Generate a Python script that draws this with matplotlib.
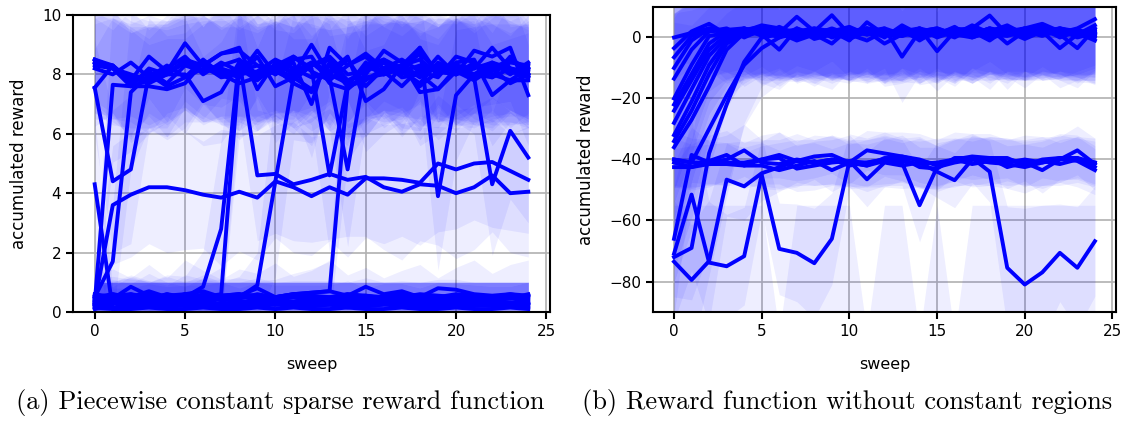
import numpy as np
import matplotlib
matplotlib.use("Agg")
import matplotlib.pyplot as plt

sweeps = np.arange(25)

# ---- (a) piecewise constant sparse reward: mean accumulated reward per run ----
left_high = [
    [8.5, 8.3, 7.7, 8.1, 7.7, 8.3, 8.1, 8.2, 8.0, 8.1, 8.5, 8.2, 7.9, 8.0, 7.7, 8.2, 8.4, 8.1, 8.3, 8.1, 8.0, 8.2, 8.4, 8.0, 8.4],
    [8.4, 8.3, 7.8, 8.6, 8.1, 9.05, 8.3, 8.7, 8.9, 7.5, 8.4, 8.0, 9.0, 8.0, 8.5, 7.6, 8.2, 8.0, 8.9, 8.0, 8.3, 8.2, 8.9, 8.2, 8.1],
    [8.3, 8.2, 7.9, 7.7, 8.0, 8.5, 8.3, 7.9, 8.0, 8.8, 8.0, 8.4, 7.0, 8.9, 8.3, 8.7, 8.2, 8.3, 7.9, 8.6, 8.0, 8.8, 8.6, 8.9, 7.3],
    [7.55, 8.3, 7.6, 7.6, 7.5, 7.7, 8.4, 8.1, 7.9, 8.6, 7.6, 7.9, 8.4, 8.1, 8.6, 7.1, 7.5, 8.3, 8.5, 8.0, 8.4, 8.5, 7.3, 7.8, 7.8],
    [8.5, 8.2, 8.0, 7.8, 8.2, 8.6, 8.0, 8.4, 8.1, 8.3, 8.0, 8.6, 8.2, 4.6, 7.7, 8.3, 8.0, 8.3, 8.9, 3.9, 7.3, 8.0, 8.4, 8.2, 8.0],
    [8.2, 8.0, 8.4, 7.9, 8.3, 7.9, 8.5, 8.0, 8.2, 7.8, 8.3, 8.1, 8.4, 7.9, 4.8, 8.3, 8.5, 8.2, 8.0, 8.3, 8.1, 7.9, 4.3, 6.1, 5.2],
]
left_high_spread = [
    [1.6, 1.9, 1.7, 1.5, 1.8, 1.4, 1.7, 1.6, 1.9, 1.5, 1.7, 1.6, 1.8, 1.5, 1.9, 1.6, 1.7, 1.5, 1.8, 1.6, 1.7, 1.9, 1.6, 1.8, 1.7],
    [1.3, 1.6, 1.9, 1.4, 1.7, 1.5, 1.3, 1.8, 1.6, 1.4, 1.9, 1.5, 1.6, 1.8, 1.4, 1.7, 1.5, 1.9, 1.4, 1.6, 1.8, 1.5, 1.7, 1.4, 1.6],
    [1.6, 1.9, 1.7, 1.5, 1.8, 1.4, 1.7, 1.6, 1.9, 1.5, 1.7, 1.6, 1.8, 1.5, 1.9, 1.6, 1.7, 1.5, 1.8, 1.6, 1.7, 1.9, 1.6, 1.8, 1.7],
    [1.3, 1.6, 1.9, 1.4, 1.7, 1.5, 1.3, 1.8, 1.6, 1.4, 1.9, 1.5, 1.6, 1.8, 1.4, 1.7, 1.5, 1.9, 1.4, 1.6, 1.8, 1.5, 1.7, 1.4, 1.6],
    [1.5, 1.7, 1.6, 1.8, 1.5, 1.7, 1.6, 1.9, 1.5, 1.7, 1.6, 1.8, 1.9, 2.6, 2.0, 1.7, 1.6, 1.8, 1.7, 2.5, 2.2, 1.6, 1.8, 1.5, 1.7],
    [1.7, 1.5, 1.8, 1.6, 1.7, 1.9, 1.5, 1.6, 1.8, 1.7, 1.5, 1.9, 1.6, 1.8, 2.6, 2.0, 1.7, 1.5, 1.8, 1.6, 1.7, 1.9, 2.4, 2.3, 2.2],
]
left_jump = [
    [0.3, 7.65, 7.6, 7.8, 8.0, 8.0, 7.1, 7.4, 8.4, 8.0, 8.2, 8.5, 8.6, 7.7, 7.5, 8.0, 8.8, 8.4, 7.4, 7.5, 8.2, 8.0, 7.9, 8.2, 7.9],
    [0.5, 1.7, 7.4, 8.0, 8.1, 8.4, 8.3, 8.7, 8.8, 8.3, 8.2, 7.7, 7.4, 8.4, 7.6, 8.4, 8.1, 7.6, 8.2, 8.2, 8.3, 8.0, 8.1, 8.4, 8.3],
    [7.55, 4.4, 4.8, 8.0, 7.6, 7.9, 8.2, 8.0, 7.7, 7.9, 8.1, 7.8, 8.3, 8.6, 8.0, 8.1, 8.4, 7.9, 8.0, 7.5, 8.1, 8.3, 8.2, 7.7, 8.0],
    [0.4, 0.3, 0.5, 0.4, 0.6, 0.5, 0.85, 2.8, 8.5, 8.0, 8.3, 8.6, 8.1, 7.8, 8.3, 8.6, 8.0, 8.2, 8.7, 8.1, 8.0, 8.4, 7.9, 8.6, 8.0],
    [0.2, 0.5, 0.3, 0.6, 0.4, 0.3, 0.5, 0.6, 8.3, 7.9, 8.2, 7.9, 8.3, 8.5, 7.8, 8.1, 8.5, 8.1, 7.7, 8.4, 8.1, 7.8, 8.2, 8.5, 8.2],
    [0.3, 0.4, 0.6, 0.4, 0.5, 0.4, 0.6, 0.4, 0.5, 0.9, 4.4, 7.9, 7.5, 8.3, 7.6, 7.8, 8.2, 8.5, 8.1, 7.9, 8.6, 8.4, 8.0, 7.8, 8.2],
    [0.5, 0.6, 0.4, 0.5, 0.3, 0.6, 0.4, 0.5, 0.6, 0.4, 0.5, 0.6, 0.65, 0.7, 7.6, 7.9, 8.0, 8.2, 7.6, 8.1, 8.2, 7.9, 8.3, 8.1, 7.9],
]
left_jump_spread = [
    [0.6, 2.6, 2.2, 1.8, 1.6, 1.9, 1.5, 1.7, 1.8, 1.6, 1.5, 1.8, 1.7, 1.6, 1.9, 1.5, 1.7, 1.6, 1.8, 1.5, 1.7, 1.6, 1.8, 1.5, 1.7],
    [0.7, 1.9, 2.6, 1.8, 1.7, 1.6, 1.8, 1.5, 1.7, 1.9, 1.6, 1.5, 1.8, 1.7, 1.6, 1.9, 1.5, 1.7, 1.6, 1.8, 1.5, 1.7, 1.9, 1.6, 1.8],
    [1.6, 2.4, 2.5, 1.9, 1.7, 1.5, 1.8, 1.6, 1.9, 1.5, 1.7, 1.8, 1.6, 1.5, 1.8, 1.7, 1.6, 1.9, 1.5, 1.7, 1.8, 1.6, 1.5, 1.7, 1.8],
    [0.6, 0.55, 0.7, 0.6, 0.65, 0.7, 1.2, 3.0, 2.0, 1.7, 1.6, 1.8, 1.5, 1.7, 1.9, 1.6, 1.8, 1.5, 1.7, 1.6, 1.9, 1.7, 1.5, 1.8, 1.6],
    [0.55, 0.6, 0.65, 0.7, 0.6, 0.55, 0.65, 0.9, 2.4, 1.8, 1.6, 1.7, 1.9, 1.5, 1.8, 1.6, 1.7, 1.9, 1.6, 1.5, 1.8, 1.6, 1.7, 1.9, 1.6],
    [0.6, 0.65, 0.55, 0.6, 0.7, 0.6, 0.65, 0.6, 0.7, 1.1, 3.2, 2.1, 1.8, 1.6, 1.7, 1.9, 1.5, 1.6, 1.8, 1.7, 1.6, 1.9, 1.7, 1.5, 1.8],
    [0.65, 0.6, 0.7, 0.55, 0.6, 0.65, 0.7, 0.6, 0.55, 0.65, 0.6, 0.7, 0.8, 1.0, 2.5, 1.9, 1.7, 1.6, 1.8, 1.5, 1.7, 1.6, 1.9, 1.7, 1.6],
]
left_mid = [
    [0.3, 3.6, 3.95, 4.2, 4.2, 4.1, 3.95, 3.85, 4.05, 3.85, 4.4, 4.2, 3.9, 4.2, 3.95, 4.5, 4.5, 4.45, 4.35, 5.0, 4.8, 5.0, 5.05, 4.75, 4.45],
    [8.4, 8.2, 7.6, 8.2, 8.0, 8.4, 8.1, 8.3, 8.5, 4.6, 4.65, 4.3, 4.45, 4.65, 4.45, 4.55, 4.2, 4.05, 4.3, 4.25, 4.0, 4.2, 4.6, 4.0, 4.05],
]
left_mid_spread = [
    [0.7, 2.0, 2.1, 1.9, 2.2, 2.0, 1.8, 2.3, 2.0, 2.1, 1.9, 2.2, 2.0, 1.8, 2.1, 2.0, 2.2, 1.9, 2.1, 2.3, 2.0, 1.9, 2.2, 2.0, 1.8],
    [1.7, 1.6, 1.8, 1.5, 1.7, 1.6, 1.8, 1.7, 1.9, 2.2, 2.0, 1.9, 2.1, 2.2, 1.9, 2.0, 2.1, 2.3, 1.9, 2.0, 2.2, 2.1, 1.9, 2.0, 2.2],
]
left_low = [
    [4.3, 0.1, 0.2, 0.3, 0.25, 0.2, 0.3, 0.25, 0.2, 0.3, 0.25, 0.3, 0.2, 0.25, 0.3, 0.2, 0.25, 0.3, 0.2, 0.25, 0.3, 0.2, 0.25, 0.2, 0.3],
    [0.5, 0.45, 0.85, 0.55, 0.45, 0.6, 0.7, 0.5, 0.55, 0.8, 0.5, 0.6, 0.65, 0.7, 0.55, 0.85, 0.6, 0.7, 0.5, 0.8, 0.75, 0.6, 0.55, 0.6, 0.5],
    [0.3, 0.3, 0.4, 0.35, 0.3, 0.4, 0.3, 0.45, 0.35, 0.35, 0.4, 0.35, 0.45, 0.4, 0.35, 0.4, 0.35, 0.4, 0.3, 0.45, 0.4, 0.35, 0.4, 0.3, 0.35],
    [0.2, 0.15, 0.25, 0.2, 0.15, 0.25, 0.2, 0.2, 0.15, 0.2, 0.25, 0.2, 0.2, 0.25, 0.15, 0.2, 0.25, 0.2, 0.2, 0.15, 0.2, 0.25, 0.2, 0.2, 0.15],
    [0.4, 0.6, 0.5, 0.7, 0.5, 0.45, 0.55, 0.4, 0.45, 0.6, 0.5, 0.55, 0.5, 0.45, 0.5, 0.55, 0.45, 0.5, 0.6, 0.55, 0.5, 0.45, 0.5, 0.55, 0.5],
    [0.1, 0.3, 0.25, 0.3, 0.35, 0.3, 0.25, 0.3, 0.3, 0.25, 0.3, 0.35, 0.3, 0.25, 0.3, 0.3, 0.35, 0.3, 0.25, 0.3, 0.3, 0.25, 0.3, 0.3, 0.25],
    [0.6, 0.5, 0.35, 0.45, 0.6, 0.4, 0.45, 0.55, 0.6, 0.35, 0.45, 0.5, 0.4, 0.45, 0.6, 0.4, 0.5, 0.45, 0.55, 0.4, 0.45, 0.5, 0.4, 0.45, 0.6],
    [0.15, 0.1, 0.1, 0.15, 0.1, 0.1, 0.15, 0.1, 0.1, 0.15, 0.1, 0.15, 0.1, 0.1, 0.15, 0.1, 0.1, 0.15, 0.1, 0.1, 0.15, 0.1, 0.1, 0.15, 0.1],
    [0.35, 0.45, 0.5, 0.4, 0.45, 0.5, 0.4, 0.45, 0.5, 0.45, 0.4, 0.5, 0.45, 0.5, 0.4, 0.45, 0.5, 0.45, 0.4, 0.5, 0.45, 0.4, 0.5, 0.45, 0.4],
    [0.25, 0.35, 0.3, 0.25, 0.3, 0.35, 0.3, 0.25, 0.35, 0.3, 0.25, 0.3, 0.35, 0.3, 0.25, 0.35, 0.3, 0.25, 0.3, 0.35, 0.3, 0.25, 0.35, 0.3, 0.25],
    [0.5, 0.55, 0.6, 0.5, 0.55, 0.6, 0.5, 0.55, 0.6, 0.55, 0.5, 0.6, 0.55, 0.5, 0.6, 0.55, 0.5, 0.6, 0.55, 0.5, 0.6, 0.55, 0.5, 0.6, 0.55],
]
left_low_spread = [
    [2.2, 0.7, 0.6, 0.65, 0.6, 0.7, 0.6, 0.75, 0.6, 0.7, 0.65, 0.6, 0.7, 0.65, 0.75, 0.6, 0.7, 0.65, 0.6, 0.75, 0.65, 0.7, 0.6, 0.65, 0.7],
    [0.5, 0.55, 0.4, 0.5, 0.55, 0.45, 0.4, 0.5, 0.45, 0.35, 0.5, 0.45, 0.4, 0.35, 0.45, 0.3, 0.4, 0.35, 0.5, 0.3, 0.35, 0.4, 0.45, 0.4, 0.5],
    [0.7, 0.7, 0.6, 0.65, 0.7, 0.6, 0.7, 0.55, 0.65, 0.65, 0.6, 0.65, 0.55, 0.6, 0.65, 0.6, 0.65, 0.6, 0.7, 0.55, 0.6, 0.65, 0.6, 0.7, 0.65],
    [1.1, 1.3, 0.9, 1.4, 1.0, 1.5, 1.2, 0.9, 1.3, 1.1, 1.4, 1.0, 1.2, 1.5, 1.1, 1.3, 0.9, 1.2, 1.4, 1.0, 1.3, 1.5, 1.1, 1.4, 1.6],
    [0.6, 0.4, 0.5, 0.3, 0.5, 0.55, 0.45, 0.6, 0.55, 0.4, 0.5, 0.45, 0.5, 0.55, 0.5, 0.45, 0.55, 0.5, 0.4, 0.45, 0.5, 0.55, 0.5, 0.45, 0.5],
    [0.9, 0.7, 0.75, 0.7, 0.65, 0.7, 0.75, 0.7, 0.7, 0.75, 0.7, 0.65, 0.7, 0.75, 0.7, 0.7, 0.65, 0.7, 0.75, 0.7, 0.7, 0.75, 0.7, 0.7, 0.75],
    [0.4, 0.5, 0.65, 0.55, 0.4, 0.6, 0.55, 0.45, 0.4, 0.65, 0.55, 0.5, 0.6, 0.55, 0.4, 0.6, 0.5, 0.55, 0.45, 0.6, 0.55, 0.5, 0.6, 0.55, 0.4],
    [0.85, 0.9, 0.9, 0.85, 0.9, 0.9, 0.85, 0.9, 0.9, 0.85, 0.9, 0.85, 0.9, 0.9, 0.85, 0.9, 0.9, 0.85, 0.9, 0.9, 0.85, 0.9, 0.9, 0.85, 0.9],
    [0.65, 0.55, 0.5, 0.6, 0.55, 0.5, 0.6, 0.55, 0.5, 0.55, 0.6, 0.5, 0.55, 0.5, 0.6, 0.55, 0.5, 0.55, 0.6, 0.5, 0.55, 0.6, 0.5, 0.55, 0.6],
    [0.75, 0.65, 0.7, 0.75, 0.7, 0.65, 0.7, 0.75, 0.65, 0.7, 0.75, 0.7, 0.65, 0.7, 0.75, 0.65, 0.7, 0.75, 0.7, 0.65, 0.7, 0.75, 0.65, 0.7, 0.75],
    [0.5, 0.45, 0.4, 0.5, 0.45, 0.4, 0.5, 0.45, 0.4, 0.45, 0.5, 0.4, 0.45, 0.5, 0.4, 0.45, 0.5, 0.4, 0.45, 0.5, 0.4, 0.45, 0.5, 0.4, 0.45],
]

# ---- (b) reward function without constant regions ----
right_top = [
    [0, 1.5, 3.0, 1.5, 1.0, 1.5, 2.5, 1.0, 2.0, 1.0, 2.0, 1.5, 1.0, 2.5, 1.0, 2.0, 1.5, 1.0, 2.0, 1.5, 2.0, 1.5, 2.0, 1.0, 2.5],
    [-3.5, 2.0, 4.5, 1.0, 3.0, 1.0, -4.0, 3.0, 1.0, 2.0, 3.5, 1.0, 2.5, 0.5, 2.0, 1.0, 2.5, 3.0, 1.0, 2.0, 3.0, 2.0, 1.5, 3.0, 6.0],
    [-6.5, 0.5, 2.0, 3.0, 0.0, 2.5, 1.5, 6.8, 2.0, 7.3, 1.0, 3.0, 0.0, 4.0, 1.0, 2.0, 0.0, 3.0, 7.2, 1.0, 3.0, 4.5, 2.0, 1.0, 4.0],
    [-10, -1, 3.0, 1.0, 2.5, 3.5, 0.5, 2.0, 0.0, 2.0, -1.0, 5.0, 1.0, 2.0, 3.0, -4.5, 2.0, 1.0, 3.0, 1.0, 2.0, 3.0, 0.0, 2.0, 1.0],
    [-13.5, -4, 2.0, 2.5, 3.0, 1.0, 2.0, -0.5, 2.5, 0.5, 2.0, 1.0, 3.0, -6.3, 2.0, 1.0, 3.5, 0.0, 2.0, 4.0, 1.0, 2.0, -3.5, 1.0, 2.0],
    [-20, -9, 0.5, 1.5, 2.0, 4.0, 3.0, 1.0, 3.0, 2.0, 0.0, 2.0, -2.0, 1.0, 2.0, 3.0, 1.0, 2.0, -1.0, 3.0, 2.0, 0.5, 3.0, 2.0, 1.0],
    [-22, -12, -2, 2.0, 1.0, 2.0, 1.5, -1.0, 1.0, -2.0, 3.0, 1.5, 1.0, 3.0, -1.0, 2.5, 1.0, 4.0, 1.5, 2.0, -0.5, 2.0, 1.0, -3.5, 3.0],
    [-24, -14, -4, 1.0, 3.0, 0.5, 2.0, 2.5, 1.0, 3.0, 1.0, -1.0, 2.0, 1.0, 3.0, 0.0, 2.0, 1.0, 3.0, -2.0, 2.0, 3.5, 1.0, 2.0, 0.0],
    [-28, -17, -6, 0.0, 1.5, 2.0, 0.0, 3.0, -0.5, 1.0, 2.0, 3.0, 1.5, 2.0, -0.5, 1.5, 3.0, 2.0, 0.0, 1.0, 3.0, 1.0, 2.5, 0.0, 1.5],
    [-32, -21, -9, -1, 2.0, 1.0, 3.5, 1.0, 2.0, 1.5, -0.5, 2.0, 3.0, 1.0, 2.0, 3.0, 1.0, 0.0, 2.0, 1.5, 0.0, 2.0, 3.0, 1.5, -1.0],
    [-34, -24, -12, -2, 1.0, 2.5, 1.0, 2.0, 3.0, 0.0, 1.5, 2.0, 1.0, 0.5, 3.0, 1.5, 2.0, 1.0, 3.0, 2.0, 1.5, 3.0, 1.0, 2.0, 0.5],
    [-36, -27, -16, -4, 1.5, 3.0, 2.0, 0.5, 2.0, 2.5, 1.0, 3.0, 2.0, 1.5, 0.0, 2.0, 1.5, 3.0, 1.0, 0.5, 2.0, 1.5, 3.0, 1.0, 2.0],
    [-40, -41, -30, -19, -9, -3.5, 0.0, 1.5, 2.0, 1.0, 2.0, 1.0, 1.5, 2.0, 1.0, 2.0, 1.0, 1.5, 2.0, 1.0, 2.0, 1.0, 1.5, 1.0, 2.0],
    [-72, -69, -38, -22, -8, 0.0, 1.0, 2.0, 1.5, 2.5, 1.0, 2.0, 1.5, 1.0, 2.0, 1.5, 2.5, 1.0, 2.0, 1.5, 1.0, 2.0, 1.5, 2.5, 1.0],
]
right_top_spread = [
    [8, 10, 12, 13, 14, 13, 15, 14, 13, 15, 14, 13, 15, 14, 16, 13, 14, 15, 13, 14, 15, 13, 14, 16, 13],
    [10, 12, 13, 15, 14, 16, 13, 15, 16, 14, 15, 16, 14, 13, 15, 16, 14, 15, 16, 13, 14, 16, 15, 14, 15],
    [14, 13, 15, 14, 16, 15, 14, 16, 13, 15, 14, 16, 15, 14, 13, 15, 16, 14, 15, 13, 16, 14, 15, 13, 14],
    [20, 16, 14, 16, 15, 13, 14, 15, 16, 14, 13, 15, 16, 14, 15, 13, 14, 16, 15, 14, 13, 15, 14, 16, 15],
    [24, 20, 15, 14, 13, 15, 16, 14, 15, 13, 16, 14, 13, 15, 14, 16, 15, 13, 14, 16, 15, 14, 13, 15, 16],
    [30, 25, 18, 15, 14, 16, 13, 15, 14, 16, 15, 13, 14, 16, 15, 14, 13, 15, 16, 14, 15, 13, 14, 15, 16],
    [32, 26, 19, 16, 15, 14, 15, 13, 16, 15, 14, 16, 15, 13, 14, 15, 16, 14, 13, 15, 16, 14, 15, 13, 14],
    [35, 28, 21, 17, 14, 16, 15, 14, 13, 16, 15, 14, 16, 15, 13, 14, 15, 16, 14, 15, 13, 16, 14, 15, 13],
    [38, 30, 22, 17, 15, 14, 16, 15, 13, 14, 16, 15, 14, 13, 15, 16, 14, 15, 13, 16, 14, 15, 16, 14, 13],
    [40, 33, 24, 18, 15, 15, 14, 16, 15, 13, 14, 16, 15, 14, 16, 13, 15, 14, 16, 15, 14, 13, 15, 16, 14],
    [42, 35, 25, 18, 16, 14, 15, 13, 16, 15, 14, 13, 16, 15, 14, 16, 13, 15, 14, 16, 15, 14, 13, 15, 16],
    [44, 36, 27, 19, 15, 16, 14, 15, 14, 16, 13, 15, 14, 16, 15, 14, 16, 13, 15, 14, 16, 15, 14, 13, 15],
    [45, 45, 40, 30, 20, 16, 15, 14, 16, 15, 13, 14, 15, 16, 14, 15, 16, 13, 14, 15, 16, 14, 15, 13, 14],
    [30, 35, 40, 30, 20, 16, 14, 15, 13, 16, 15, 14, 16, 15, 13, 14, 15, 16, 14, 13, 15, 16, 14, 15, 13],
]
right_mid = [
    [-66, -38.5, -41, -41, -41, -40, -38.5, -40.5, -39, -38.5, -41, -37, -38, -39, -40, -42, -40, -39, -39.5, -39.5, -42, -40, -39.5, -39.5, -41],
    [-40, -41, -41, -40, -37, -41, -41.5, -40, -41, -40, -41, -42, -40.5, -41, -55, -42.5, -41, -40, -39.5, -41, -40, -41, -40, -37, -41.5],
    [-42.5, -42.5, -41.5, -41.5, -42, -42, -43.5, -42, -40.5, -43.5, -41, -42, -39.5, -39.5, -42.5, -43, -39.5, -39.5, -39.5, -42.5, -41, -43.5, -40, -39.5, -42.5],
    [-41, -42.5, -40.5, -38.5, -42, -40, -39.5, -43, -42, -41, -40.5, -46.5, -41, -42, -41, -44, -46.8, -40, -41, -41.5, -42.5, -41, -39.5, -40.5, -43.5],
    [-73.5, -79.5, -73.3, -46.6, -48.8, -44.5, -42.5, -40.5, -41, -40, -42, -41, -40, -40.5, -41.5, -41, -40, -41.5, -40.5, -40, -41, -40.5, -41.5, -40, -41],
]
right_mid_spread = [
    [25, 9, 7, 6.5, 7, 6, 7.5, 6.5, 7, 6, 7, 6.5, 7, 6, 7.5, 6.5, 7, 6, 7, 6.5, 7, 6, 7.5, 6.5, 7],
    [9, 8, 7.5, 8, 8.5, 7.5, 8, 8.5, 7.5, 8, 7.5, 8.5, 8, 7.5, 12, 8, 7.5, 8.5, 8, 7.5, 8, 8.5, 7.5, 8, 8.5],
    [6, 7, 6.5, 7, 6, 7.5, 6.5, 7, 6, 7, 6.5, 7, 6, 7.5, 6.5, 7, 6, 7, 6.5, 7, 6, 7.5, 6.5, 7, 6],
    [8, 7.5, 8.5, 8, 7.5, 8, 8.5, 7.5, 8, 7.5, 8.5, 9, 8, 7.5, 8, 8.5, 9, 8, 7.5, 8, 8.5, 7.5, 8, 8.5, 8],
    [20, 18, 20, 12, 11, 9, 8, 7, 7.5, 8, 7, 7.5, 8, 7, 7.5, 8, 7, 7.5, 8, 7, 7.5, 8, 7, 7.5, 8],
]
right_low = [
    [-70.9, -51.5, -73.8, -75, -71.7, -45, -69.3, -70.6, -74, -66, -40.6, -41, -40, -39, -40.5, -41.5, -40, -39.5, -44, -75.5, -81, -77, -70.6, -75.5, -66.8],
    [-105, -110, -112, -108, -106, -104, -112, -108, -110, -106, -104, -115, -108, -106, -118, -107, -116, -109, -105, -110, -106, -108, -104, -107, -105],
]
right_low_spread = [
    [22, 25, 20, 17, 16, 12, 15, 16, 18, 15, 9, 8, 9, 8, 9, 8, 9, 8, 10, 20, 25, 22, 16, 20, 18],
    [50, 55, 57, 53, 51, 49, 15, 53, 55, 51, 49, 18, 53, 51, 20, 52, 18, 54, 50, 55, 51, 53, 49, 52, 50],
]

line_color = "#0000ff"
band_alpha = 0.065

plt.rcParams["font.family"] = "DejaVu Sans"
plt.rcParams["axes.linewidth"] = 1.5
for ax_name in ("xtick", "ytick"):
    plt.rcParams[ax_name + ".major.width"] = 1.5
    plt.rcParams[ax_name + ".major.size"] = 5
    plt.rcParams[ax_name + ".labelsize"] = 11


def draw_runs(ax, groups):
    # shaded spread first, lines on top
    for means, spreads in groups:
        for m, s in zip(means, spreads):
            m = np.array(m, dtype=float)
            s = np.array(s, dtype=float)
            ax.fill_between(sweeps, m - s, m + s, color=line_color,
                            alpha=band_alpha, linewidth=0, zorder=2)
    for means, _ in groups:
        for m in means:
            ax.plot(sweeps, m, color=line_color, linewidth=2.8, zorder=3)
    ax.grid(True, color="#b0b0b0", linewidth=1.2, zorder=1)
    ax.set_axisbelow(True)
    ax.set_xlabel("sweep", fontsize=11.5, labelpad=13)
    ax.set_ylabel("accumulated reward", fontsize=12, labelpad=10)
    ax.set_xticks([0, 5, 10, 15, 20, 25])


fig = plt.figure(figsize=(11.27, 4.21), dpi=100)
ax_a = fig.add_axes([0.0648, 0.2589, 0.4232, 0.7055])
ax_b = fig.add_axes([0.5794, 0.2589, 0.4108, 0.7245])

draw_runs(ax_a, [(left_high, left_high_spread), (left_jump, left_jump_spread),
                 (left_mid, left_mid_spread), (left_low, left_low_spread)])
ax_a.set_ylim(0, 10)
ax_a.set_xlim(-1.2, 25.2)

draw_runs(ax_b, [(right_top, right_top_spread), (right_mid, right_mid_spread),
                 (right_low, right_low_spread)])
ax_b.set_ylim(-90, 10)
ax_b.set_xlim(-1.2, 25.2)
ax_b.set_yticks([-80, -60, -40, -20, 0])

fig.text(0.249, 0.043, "(a) Piecewise constant sparse reward function",
         family="cmr10", fontsize=19, ha="center", va="center")
fig.text(0.752, 0.043, "(b) Reward function without constant regions",
         family="cmr10", fontsize=19, ha="center", va="center")

fig.savefig("out.png", dpi=100)
